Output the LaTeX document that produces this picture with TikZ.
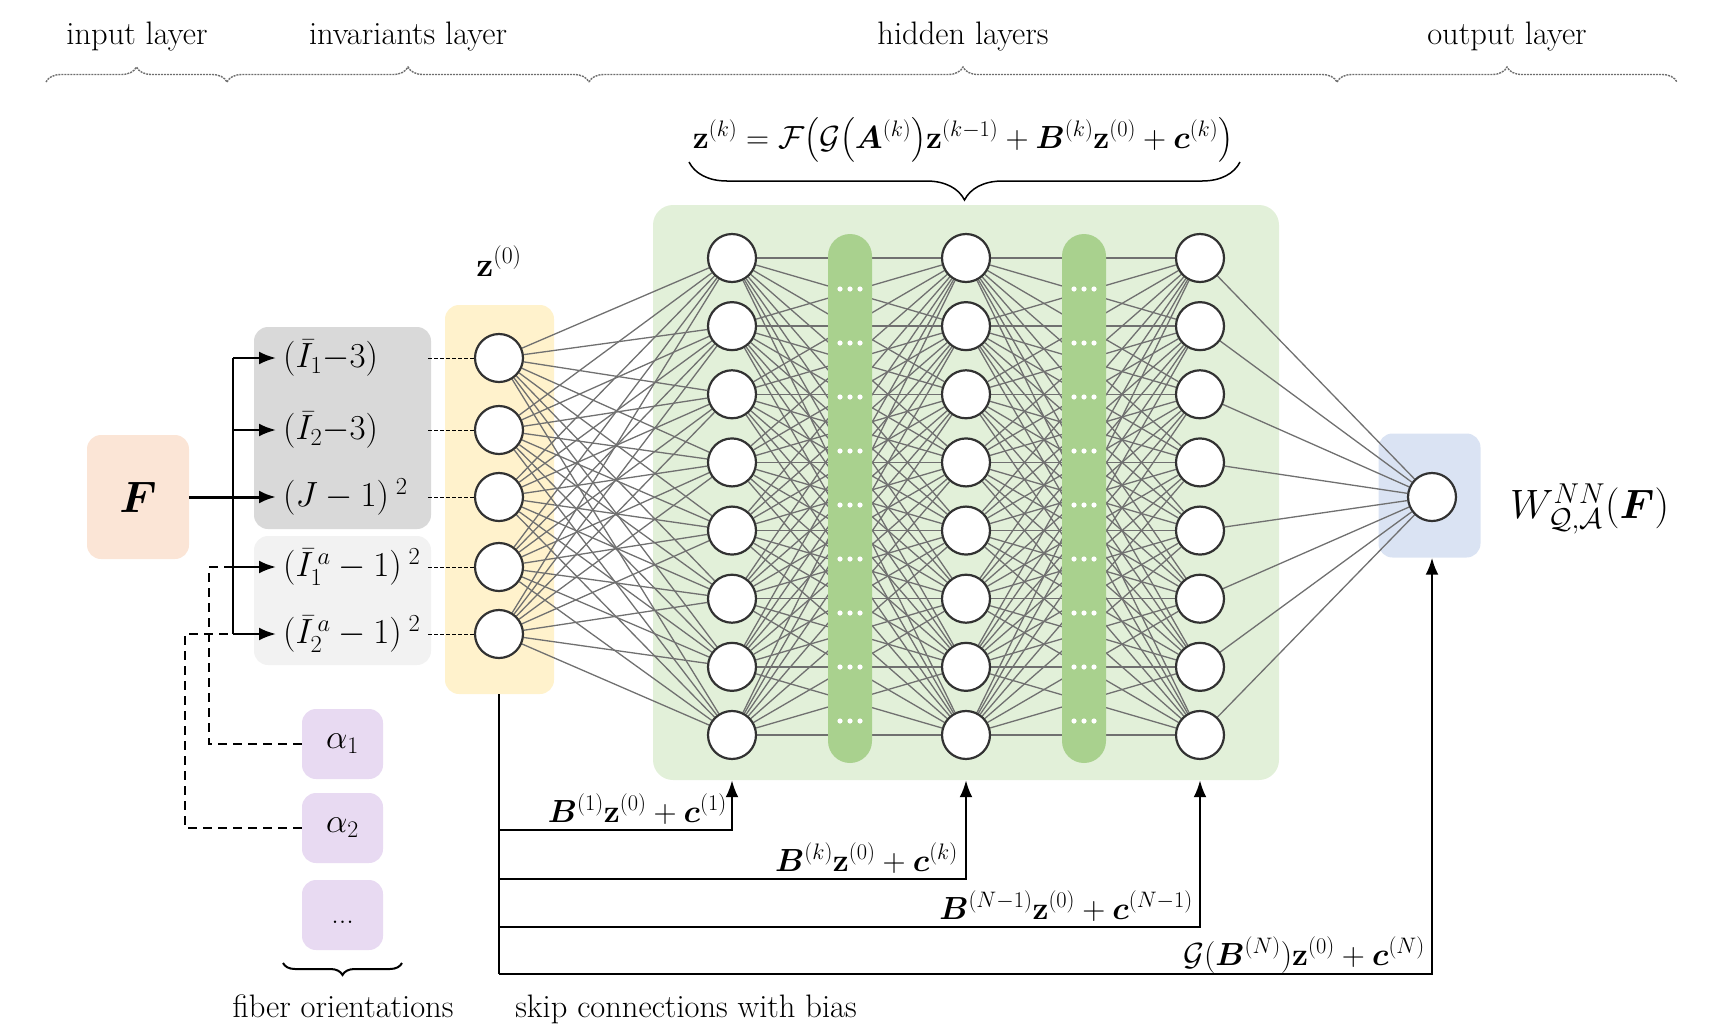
\RequirePackage{fix-cm}
\documentclass[tikz,border=0pt]{standalone}
\usepackage{amsmath,bm}
\usetikzlibrary{arrows.meta,decorations.pathreplacing,calc}
\definecolor{peach}{RGB}{251,229,214}
\definecolor{dgray}{RGB}{217,217,217}
\definecolor{lgray}{RGB}{242,242,242}
\definecolor{yel}{RGB}{255,242,204}
\definecolor{gbg}{RGB}{226,240,217}
\definecolor{pillc}{RGB}{169,209,142}
\definecolor{obox}{RGB}{218,227,243}
\definecolor{lav}{RGB}{232,218,242}
\definecolor{ncol}{RGB}{50,50,50}
\definecolor{lcol}{RGB}{112,112,112}
\definecolor{bcol}{RGB}{110,110,110}
\pgfdeclarelayer{back}\pgfdeclarelayer{lines}\pgfdeclarelayer{mid}
\pgfsetlayers{back,lines,mid,main}
\newcommand\tsz{\fontsize{32.5}{38}\selectfont}
\newcommand\msz{\fontsize{32}{38}\selectfont}
\newcommand\isz{\fontsize{35}{41}\selectfont}
\begin{document}
\begin{tikzpicture}[x=1pt,y=-1pt,
  neuron/.style={circle,draw=ncol,line width=2.2pt,fill=white,minimum size=48pt,inner sep=0pt},
  conn/.style={draw=lcol,line width=1.3pt},
  bgbox/.style={rounded corners=14pt,inner sep=0pt},
  solidarr/.style={line width=2.4pt,-{Latex[length=17pt,width=13pt]}},
  fline/.style={line width=2.4pt},
  dline/.style={line width=1pt,dash pattern=on 3.5pt off 2.5pt},
  adash/.style={line width=2.2pt,dash pattern=on 9pt off 6pt},
  tbrace/.style={decorate,decoration={brace,amplitude=15pt},draw=bcol,line width=1.4pt,dash pattern=on 2pt off 1pt},
  inv/.style={anchor=west,inner ysep=0pt,inner xsep=7pt},
  lbl/.style={anchor=base,inner sep=0pt}]
\useasboundingbox (0,0) rectangle (1721,1029);

% ---------- background boxes
\begin{pgfonlayer}{back}
\node[bgbox,fill=peach,minimum width=102pt,minimum height=124pt] (Fb) at (138,497) {\fontsize{44}{50}\selectfont$\bm{F}$};
\node[bgbox,fill=dgray,minimum width=177pt,minimum height=202pt] (G1) at (342.5,428) {};
\node[bgbox,fill=lgray,minimum width=177pt,minimum height=129pt] (G2) at (342.5,600.5) {};
\node[bgbox,fill=yel,minimum width=109pt,minimum height=389pt] (Y) at (499.5,499.5) {};
\node[bgbox,rounded corners=20pt,fill=gbg,minimum width=626pt,minimum height=575pt] (H) at (966,492.5) {};
\node[bgbox,fill=obox,minimum width=102pt,minimum height=124pt] (O) at (1429.5,495.5) {};
\node[bgbox,fill=lav,minimum width=81pt,minimum height=70pt] (a1) at (342.5,744) {\fontsize{34}{40}\selectfont$\alpha_1$};
\node[bgbox,fill=lav,minimum width=81pt,minimum height=70pt] (a2) at (342.5,828) {\fontsize{34}{40}\selectfont$\alpha_2$};
\node[bgbox,fill=lav,minimum width=81pt,minimum height=70pt] (a3) at (342.5,915) {\fontsize{30}{40}\selectfont\strut...};
\end{pgfonlayer}

% ---------- neurons
\foreach \i/\yy in {1/358,2/430,3/497,4/567,5/634}
  \node[neuron] (y\i) at (499,\yy) {};
\foreach \c/\xx in {1/732,2/966,3/1200}
  \foreach \r in {1,...,8}
    \node[neuron] (h\c-\r) at (\xx,{258+68.14*(\r-1)}) {};
\node[neuron] (out) at (1432,497) {};

% ---------- pills
\begin{pgfonlayer}{mid}
\foreach \p/\xx in {1/850,2/1084}{
  \node[fill=pillc,rounded corners=22pt,minimum width=44pt,minimum height=529pt,inner sep=0pt] (p\p) at (\xx,498.5) {};
  \foreach \k in {0,...,8}
    \foreach \dx in {-10,0,10}
      \fill[white] ({\xx+\dx},{289+54*\k}) circle (2.6pt);
}
\end{pgfonlayer}

% ---------- connections
\begin{pgfonlayer}{lines}
\foreach \i in {1,...,5}
  \foreach \j in {1,...,8}
    \draw[conn] (y\i) -- (h1-\j);
\foreach \i in {1,...,8}
  \foreach \j in {1,...,8}{
    \draw[conn] (h1-\i) -- (h2-\j);
    \draw[conn] (h2-\i) -- (h3-\j);
  }
\foreach \i in {1,...,8}
  \draw[conn] (h3-\i) -- (out);
\end{pgfonlayer}

% ---------- invariants
\node[inv] (i1) at (276,358) {\isz$(\bar{I}_1{-}3)$};
\node[inv] (i2) at (276,430) {\isz$(\bar{I}_2{-}3)$};
\node[inv] (i3) at (276,497) {\isz$(J-1)^{\;2}$};
\node[inv] (i4) at (276,567) {\isz$(\bar{I}_1^{\,a}-1)^{\;2}$};
\node[inv] (i5) at (276,634) {\isz$(\bar{I}_2^{\,a}-1)^{\;2}$};

\coordinate (vx) at (233,0);
\coordinate (dx) at (428,0);
\coordinate (k1) at (209,0);
\coordinate (k2) at (185,0);

% alpha dashed connectors
\draw[adash] (a1.west) -- (a1.west -| k1) -- (i4.west -| k1) -- (i4.west -| vx);
\draw[adash] (a2.west) -- (a2.west -| k2) -- (i5.west -| k2) -- (i5.west -| vx);

% F arrows
\draw[fline] (i1.west -| vx) -- (i5.west -| vx);
\foreach \i in {1,2,4,5}
  \draw[solidarr] (i\i.west -| vx) -- (i\i.west);
\draw[solidarr,line width=3pt] (Fb.east |- i3.west) -- (i3.west);

% dashed to z(0)
\foreach \i in {1,...,5}
  \draw[dline] (i\i.west -| dx) -- (y\i);

% ---------- skip connections
\coordinate (t1) at (499,830);
\coordinate (t2) at (499,879);
\coordinate (t3) at (499,927);
\coordinate (t4) at (499,974);
\draw[fline] (Y.south -| t1) -- (t4);
\draw[solidarr] (t1) -| (H.south -| h1-8);
\draw[solidarr] (t2) -| (H.south -| h2-8);
\draw[solidarr] (t3) -| (H.south -| h3-8);
\draw[solidarr] (t4) -| (O.south -| out);

\node[anchor=base east,inner sep=0pt] (s1) at (727,822) {\msz$\bm{B}^{(1)}\mathbf{z}^{(0)}+\bm{c}^{(1)}$};
\node[anchor=base east,inner sep=0pt] (s2) at (958,871) {\msz$\bm{B}^{(k)}\mathbf{z}^{(0)}+\bm{c}^{(k)}$};
\node[anchor=base east,inner sep=0pt] (s3) at (1193,919) {\msz$\bm{B}^{(N-1)}\mathbf{z}^{(0)}+\bm{c}^{(N-1)}$};
\node[anchor=base east,inner sep=0pt] (s4) at (1425,965) {\msz$\mathcal{G}(\bm{B}^{(N)})\mathbf{z}^{(0)}+\bm{c}^{(N)}$};

% ---------- labels
\node[lbl] (L1) at (137,44) {\tsz input layer};
\node[lbl] (L2) at (408,44) {\tsz invariants layer};
\node[lbl] (L3) at (963,44) {\tsz hidden layers};
\node[lbl] (L4) at (1507,44) {\tsz output layer};
\draw[tbrace] (46,82) -- (227,82);
\draw[tbrace] (227,82) -- (589,82);
\draw[tbrace] (589,82) -- (1337,82);
\draw[tbrace] (1337,82) -- (1677,82);

\node (fml) at (963,140) {\msz$\mathbf{z}^{(k)} = \mathcal{F}\bigl(\mathcal{G}\bigl(\bm{A}^{(k)}\bigr)\mathbf{z}^{(k-1)}+\bm{B}^{(k)}\mathbf{z}^{(0)}+\bm{c}^{(k)}\bigr)$};
\draw[decorate,decoration={brace,amplitude=38pt,mirror},line width=1.5pt] (689,162) -- (1240,162);

\node (z0) at (499,261) {\fontsize{34}{40}\selectfont$\mathbf{z}^{(0)}$};
\node[anchor=base west,inner sep=0pt] (W) at (1510,518) {\fontsize{41}{47}\selectfont$W^{NN}_{\mathcal{Q},\mathcal{A}}(\bm{F})$};

\draw[decorate,decoration={brace,amplitude=12pt,mirror},line width=2pt] (283,963) -- (402,963);
\node[lbl] (fo) at (343,1017) {\tsz fiber orientations};
\node[lbl] (sk) at (686,1017) {\tsz skip connections with bias};
\end{tikzpicture}
\end{document}
